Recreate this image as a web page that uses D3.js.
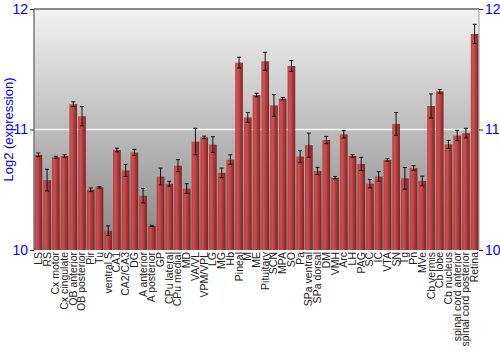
<!DOCTYPE html>
<html>
<head>
<meta charset="utf-8">
<script src="https://cdn.jsdelivr.net/npm/d3@7"></script>
<style>
  body { margin: 0; background: white; }
  text { font-family: "Liberation Sans", Arial, sans-serif; }
</style>
</head>
<body>
<div id="chart"></div>
<script>
// tissue names
var regions = ["LS","RS","Cx motor","Cx cingulate","OB anterior","OB posterior","Pir","Tu",
  "ventral S","CA1","CA2/CA3","DG","A anterior","A posterior","GP","CPu lateral","CPu medial",
  "MD","VA/VL","VPM/VPL","LG","MG","Hb","Pineal","M","ME","Pituitary","SCN","MPA","SO","Pa",
  "SPa ventral","SPa dorsal","DM","VMH","Arc","LH","PAG","SC","IC","VTA","SN","Tg","Pn","MVe",
  "Cb vermis","Cb lobe","Cb nucleus","spinal cord anterior","spinal cord posterior","Retina"];

// mean log2 expression
var means = [10.79,10.58,10.77,10.78,11.21,11.11,10.50,10.52,
  10.16,10.83,10.66,10.81,10.45,10.20,10.61,10.55,10.70,
  10.51,10.90,10.935,10.875,10.64,10.75,11.555,11.10,11.286,11.566,11.20,11.256,11.527,10.775,
  10.87,10.656,10.913,10.60,10.96,10.78,10.714,10.55,10.61,10.747,11.046,10.595,10.68,10.573,
  11.195,11.317,10.877,10.95,10.97,11.793];

// standard error
var errs = [0.015,0.09,0.008,0.01,0.02,0.08,0.015,0.006,
  0.04,0.015,0.05,0.025,0.06,0.005,0.07,0.02,0.05,
  0.04,0.11,0.01,0.065,0.04,0.04,0.045,0.04,0.015,0.075,0.09,0.01,0.045,0.05,
  0.1,0.03,0.03,0.01,0.03,0.01,0.055,0.035,0.04,0.01,0.095,0.09,0.02,0.04,
  0.1,0.015,0.033,0.043,0.04,0.08];

var yTicks = [10, 11, 12];

var W = 500, H = 350;
var margin = {top: 9, right: 21, bottom: 100, left: 34};
var width = W - margin.left - margin.right,
    height = H - margin.top - margin.bottom;

var svg = d3.select("#chart").append("svg")
  .attr("width", W).attr("height", H);

var defs = svg.append("defs");
var bg = defs.append("linearGradient").attr("id", "bg")
  .attr("x1", "0%").attr("x2", "0%").attr("y1", "0%").attr("y2", "100%");
bg.append("stop").attr("offset", "0%").attr("stop-color", "#f2f2f2");
bg.append("stop").attr("offset", "100%").attr("stop-color", "#858585");

var barGrad = defs.append("linearGradient").attr("id", "bar")
  .attr("x1", "0%").attr("x2", "100%").attr("y1", "0%").attr("y2", "0%");
barGrad.append("stop").attr("offset", "0%").attr("stop-color", "#b83a3a");
barGrad.append("stop").attr("offset", "30%").attr("stop-color", "#cf4c4c");
barGrad.append("stop").attr("offset", "100%").attr("stop-color", "#7e1c1c");

var g = svg.append("g")
  .attr("transform", "translate(" + margin.left + "," + margin.top + ")");

var x = d3.scaleBand().domain(regions).range([0, width]).paddingInner(0.12).paddingOuter(0.06);
var y = d3.scaleLinear().domain([10, 12]).range([height, 0]);

g.append("rect")
  .attr("width", width).attr("height", height)
  .style("fill", "url(#bg)");

// grid line at 11
g.append("line")
  .attr("x1", 0).attr("x2", width)
  .attr("y1", y(11)).attr("y2", y(11))
  .style("stroke", "#f8f8f8").style("stroke-width", 1.5);

// bars
g.append("g").selectAll("rect")
  .data(regions)
  .enter().append("rect")
    .attr("x", function(d) { return x(d); })
    .attr("y", function(d, i) { return y(means[i]); })
    .attr("width", x.bandwidth())
    .attr("height", function(d, i) { return height - y(means[i]); })
    .style("fill", "url(#bar)")
    .style("opacity", 0.95);

// error bars
var eb = g.append("g").selectAll("g")
  .data(regions)
  .enter().append("g")
  .attr("transform", function(d) { return "translate(" + (x(d) + x.bandwidth() / 2) + ",0)"; });
eb.append("line")
  .attr("y1", function(d, i) { return y(means[i] - errs[i]); })
  .attr("y2", function(d, i) { return y(means[i] + errs[i]); })
  .style("stroke", "#111").style("stroke-width", 1);
eb.append("line")
  .attr("x1", -2).attr("x2", 2)
  .attr("y1", function(d, i) { return y(means[i] + errs[i]); })
  .attr("y2", function(d, i) { return y(means[i] + errs[i]); })
  .style("stroke", "#111").style("stroke-width", 1);
eb.append("line")
  .attr("x1", -2).attr("x2", 2)
  .attr("y1", function(d, i) { return y(means[i] - errs[i]); })
  .attr("y2", function(d, i) { return y(means[i] - errs[i]); })
  .style("stroke", "#111").style("stroke-width", 1);

// frame lines
g.append("line").attr("x1", 0).attr("x2", width).attr("y1", 0).attr("y2", 0)
  .style("stroke", "#666").style("stroke-width", 1.5);
g.append("line").attr("x1", 0).attr("x2", 0).attr("y1", 0).attr("y2", height)
  .style("stroke", "#777").style("stroke-width", 1.5);
g.append("line").attr("x1", width).attr("x2", width).attr("y1", 0).attr("y2", height)
  .style("stroke", "#999").style("stroke-width", 1);

// y axes
var yl = g.append("g")
  .call(d3.axisLeft(y).tickValues(yTicks).tickFormat(d3.format("d")).tickSize(4).tickPadding(2));
var yr = g.append("g")
  .attr("transform", "translate(" + width + ",0)")
  .call(d3.axisRight(y).tickValues(yTicks).tickFormat(d3.format("d")).tickSize(4).tickPadding(2));
[yl, yr].forEach(function(a) {
  a.select(".domain").remove();
  a.selectAll(".tick line").style("stroke", "#333");
  a.selectAll("text").style("fill", "#0000ff").style("font-size", "14px")
    .style("font-family", "Liberation Sans, Arial, sans-serif");
});

// x labels
g.append("g").selectAll("text")
  .data(regions)
  .enter().append("text")
    .attr("transform", function(d) {
      return "translate(" + (x(d) + x.bandwidth() / 2 + 3.5) + "," + (height + 2) + ") rotate(-90)";
    })
    .attr("text-anchor", "end")
    .style("font-size", "10.5px")
    .style("fill", "#222")
    .text(function(d) { return d; });

// y title
svg.append("text")
  .attr("transform", "translate(13," + (margin.top + height / 2) + ") rotate(-90)")
  .attr("text-anchor", "middle")
  .style("font-size", "13px")
  .style("fill", "#0000ff")
  .text("Log2 (expression)");
</script>
</body>
</html>
